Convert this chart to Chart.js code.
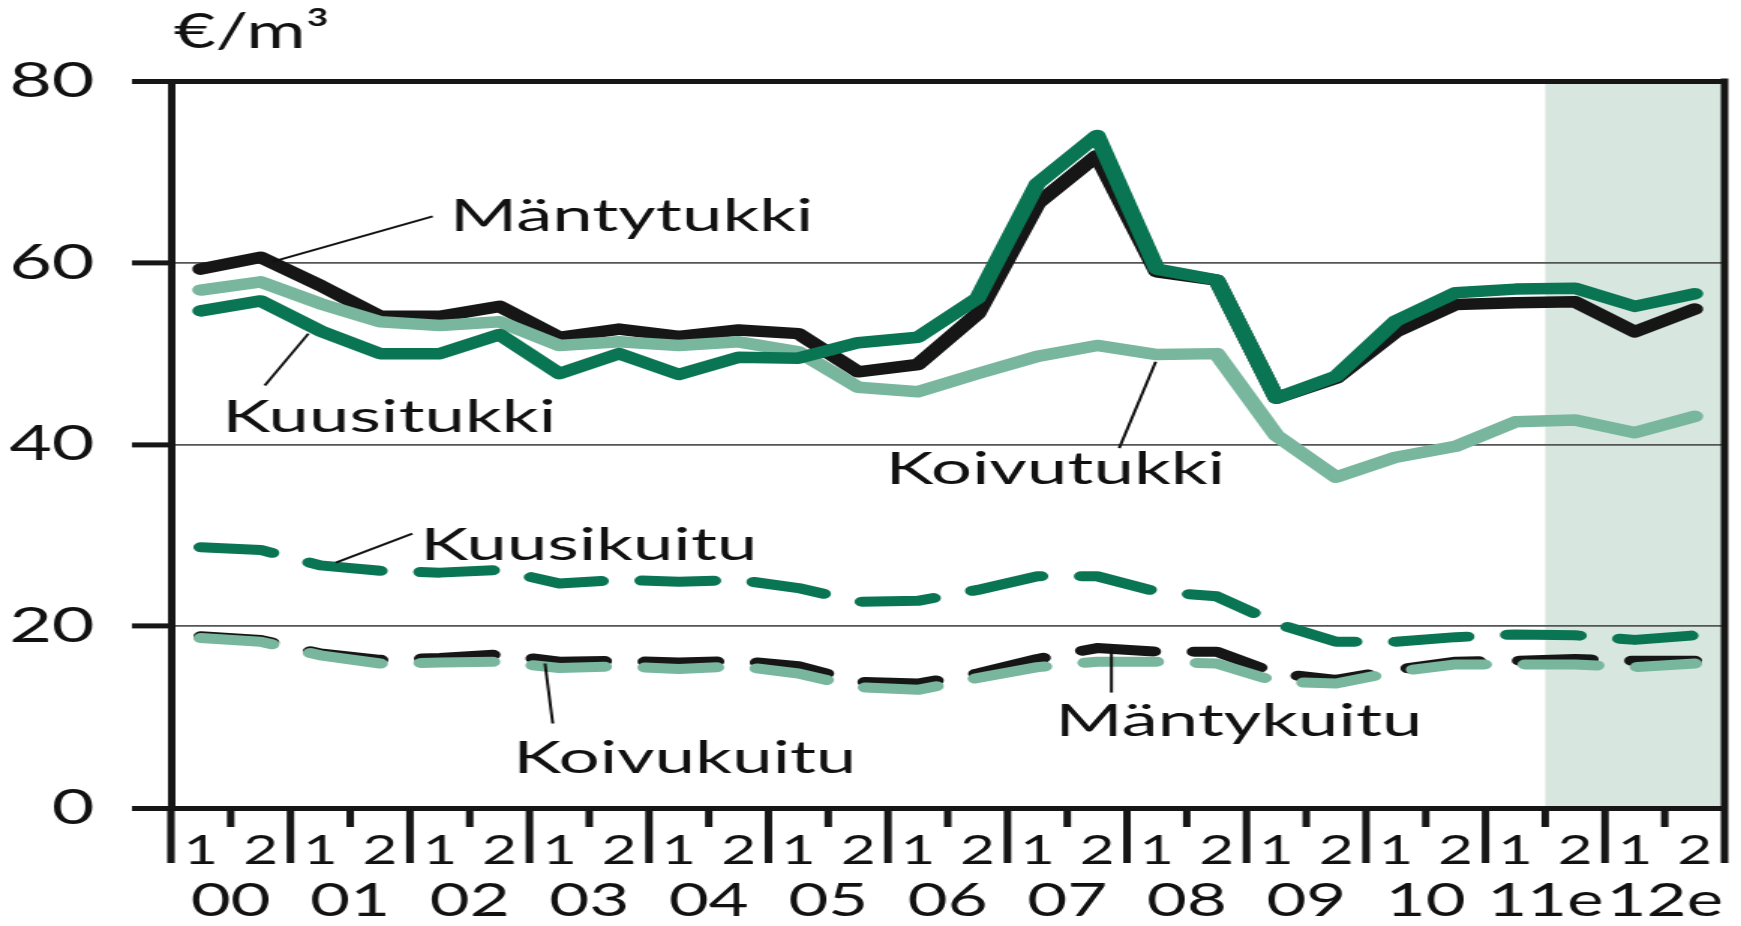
<!DOCTYPE html>
<html>
<head>
<meta charset="utf-8">
<script src="https://cdn.jsdelivr.net/npm/chart.js@4/dist/chart.umd.min.js"></script>
<style>
  html, body { margin: 0; padding: 0; background: #ffffff; }
  #c { display: block; width: 1741px; height: 926px; }
</style>
</head>
<body>
<canvas id="c" width="1161" height="926" style="width:1741px;height:926px;"></canvas>
<script>
// ---- Data (half-year values, €/m³) ----
const halfLabels = ['1','2','1','2','1','2','1','2','1','2','1','2','1','2','1','2','1','2','1','2','1','2','1','2','1','2'];
const yearLabels = ['00','01','02','03','04','05','06','07','08','09','10','11e','12e'];
const yTicks = [0, 20, 40, 60, 80];

const mantytukki = [59.3, 60.6, 57.5, 54.1, 54.1, 55.2, 51.8, 52.7, 51.9, 52.6, 52.2, 48.0, 48.8, 54.4, 66.5, 71.8, 59.0, 58.1, 45.1, 47.3, 52.4, 55.4, 55.6, 55.7, 52.4, 54.9];
const kuusitukki = [54.7, 55.8, 52.5, 50.0, 50.0, 52.1, 47.8, 50.0, 47.7, 49.6, 49.5, 51.2, 51.8, 56.1, 68.7, 74.0, 59.3, 58.1, 45.1, 47.5, 53.6, 56.7, 57.1, 57.2, 55.2, 56.6];
const koivutukki = [57.0, 57.9, 55.5, 53.5, 53.1, 53.5, 50.9, 51.3, 50.9, 51.3, 50.2, 46.3, 45.8, 47.8, 49.7, 50.9, 49.9, 50.0, 41.0, 36.4, 38.6, 39.8, 42.5, 42.7, 41.3, 43.1];
const kuusikuitu = [28.7, 28.4, 26.7, 26.1, 25.9, 26.2, 24.7, 25.1, 24.9, 25.1, 24.2, 22.7, 22.8, 24.0, 25.5, 25.5, 23.8, 23.3, 20.3, 18.3, 18.3, 18.8, 19.1, 19.0, 18.5, 19.0];
const mantykuitu = [18.9, 18.5, 17.0, 16.3, 16.5, 16.9, 16.1, 16.2, 16.0, 16.2, 15.6, 13.9, 13.7, 14.8, 16.4, 17.6, 17.2, 17.2, 14.8, 14.1, 15.2, 16.1, 16.2, 16.4, 16.2, 16.2];
const koivukuitu = [18.7, 18.3, 16.8, 15.9, 16.0, 16.1, 15.4, 15.6, 15.3, 15.6, 14.8, 13.3, 13.0, 14.3, 15.5, 16.1, 16.1, 15.9, 13.9, 13.7, 15.0, 15.8, 15.8, 15.8, 15.5, 15.9];

const shadeStartIndex = 23;   // forecast period starts at 11e / 2
const unitLabel = '€/m³';

// Series name annotations: [text, textIndex, textValue, leaderFrom(index,value), leaderTo(index,value)]
const annotations = [
  ['Mäntytukki', 4.17, 63.5, [1.19, 60.1], [3.88, 65.1]],
  ['Kuusitukki', 0.36, 41.4, [1.80, 52.2], [1.07, 46.5]],
  ['Koivutukki', 11.46, 35.6, [15.98, 49.1], [15.37, 39.6]],
  ['Kuusikuitu', 3.67, 27.3, [2.26, 27.0], [3.54, 30.2]],
  ['Koivukuitu', 5.23, 3.9, [5.76, 15.9], [5.89, 9.3]],
  ['Mäntykuitu', 14.30, 7.9, [15.24, 17.6], [15.24, 12.7]]
];

const DARK = '#0a7553';
const LIGHT = '#78b69d';
const BLACK = '#161616';
const SHADE = '#d7e6df';
const FONT = 'Lato';

const decor = {
  id: 'decor',
  beforeDraw(chart) {
    const { ctx, chartArea: a, scales: { x } } = chart;
    const x0 = x.getPixelForValue(shadeStartIndex - 0.5);
    const x1 = x.getPixelForValue(halfLabels.length - 0.5);
    ctx.save();
    ctx.fillStyle = SHADE;
    ctx.fillRect(x0, a.top, x1 - x0, a.bottom - a.top);
    ctx.restore();
  },
  afterDraw(chart) {
    const { ctx, chartArea: a, scales: { x, y } } = chart;
    ctx.save();
    ctx.strokeStyle = BLACK;
    ctx.lineCap = 'butt';
    const n = halfLabels.length;
    for (let b = 0; b <= n; b++) {
      const px = x.getPixelForValue(b - 0.5);
      const major = b % 2 === 0;
      ctx.lineWidth = 5;
      ctx.beginPath();
      const top = (b === n) ? a.top - 2.5 : a.bottom;
      ctx.moveTo(px, top);
      ctx.lineTo(px, a.bottom + (major ? 55 : 19));
      ctx.stroke();
    }
    ctx.fillStyle = '#111';
    ctx.strokeStyle = '#111';
    ctx.lineWidth = 2;
    ctx.font = '44px ' + FONT;
    ctx.textBaseline = 'alphabetic';
    ctx.textAlign = 'left';
    for (const [text, ti, tv, p1, p2] of annotations) {
      ctx.beginPath();
      ctx.moveTo(x.getPixelForValue(p1[0]), y.getPixelForValue(p1[1]));
      ctx.lineTo(x.getPixelForValue(p2[0]), y.getPixelForValue(p2[1]));
      ctx.stroke();
      ctx.save();
      ctx.translate(x.getPixelForValue(ti), y.getPixelForValue(tv));
      ctx.scale(1.1, 1);
      ctx.fillText(text, 0, 0);
      ctx.restore();
    }
    ctx.font = '48px ' + FONT;
    ctx.fillText(unitLabel, a.left + 2, 48);
    ctx.restore();
  }
};

const ds = (label, data, color, dashed, order) => ({
  label, data,
  borderColor: color,
  borderWidth: dashed ? 10 : 11.5,
  borderDash: dashed ? [48, 27] : [],
  borderCapStyle: 'round',
  borderJoinStyle: 'round',
  pointRadius: 0,
  tension: 0,
  fill: false,
  order
});

new Chart(document.getElementById('c'), {
  type: 'line',
  data: {
    labels: halfLabels,
    datasets: [
      ds('Mäntytukki', mantytukki, BLACK, false, 6),
      ds('Koivutukki', koivutukki, LIGHT, false, 5),
      ds('Kuusitukki', kuusitukki, DARK, false, 4),
      ds('Mäntykuitu', mantykuitu, BLACK, true, 3),
      ds('Koivukuitu', koivukuitu, LIGHT, true, 2),
      ds('Kuusikuitu', kuusikuitu, DARK, true, 1)
    ]
  },
  options: {
    responsive: false,
    animation: false,
    devicePixelRatio: 1,
    layout: { padding: { top: 81, right: 11, bottom: 0, left: 0 } },
    plugins: { legend: { display: false }, tooltip: { enabled: false }, title: { display: false } },
    scales: {
      x: {
        type: 'category', position: 'bottom', offset: true, weight: 0,
        grid: { display: false }, border: { display: false },
        ticks: { font: { family: FONT, size: 40 }, color: '#111', padding: 11, maxRotation: 0, autoSkip: false },
        afterFit: s => { s.height = 56; }
      },
      x2: {
        type: 'category', position: 'bottom', labels: yearLabels, offset: true, weight: 1,
        grid: { display: false }, border: { display: false },
        ticks: { font: { family: FONT, size: 46 }, color: '#111', padding: 2, maxRotation: 0, autoSkip: false },
        afterFit: s => { s.height = 62; }
      },
      y: {
        min: 0, max: 80,
        afterBuildTicks: s => { s.ticks = yTicks.map(v => ({ value: v })); },
        ticks: { font: { family: FONT, size: 49 }, color: '#111', padding: 25 },
        grid: {
          color: c => (c.tick && (c.tick.value === 0 || c.tick.value === 80)) ? BLACK : '#555',
          lineWidth: c => (c.tick && (c.tick.value === 0 || c.tick.value === 80)) ? 5 : 1.8,
          tickLength: 26, tickWidth: 5, tickColor: BLACK
        },
        border: { display: true, color: BLACK, width: 5 },
        afterFit: s => { s.width = 114; }
      }
    }
  },
  plugins: [decor]
});
</script>
</body>
</html>
